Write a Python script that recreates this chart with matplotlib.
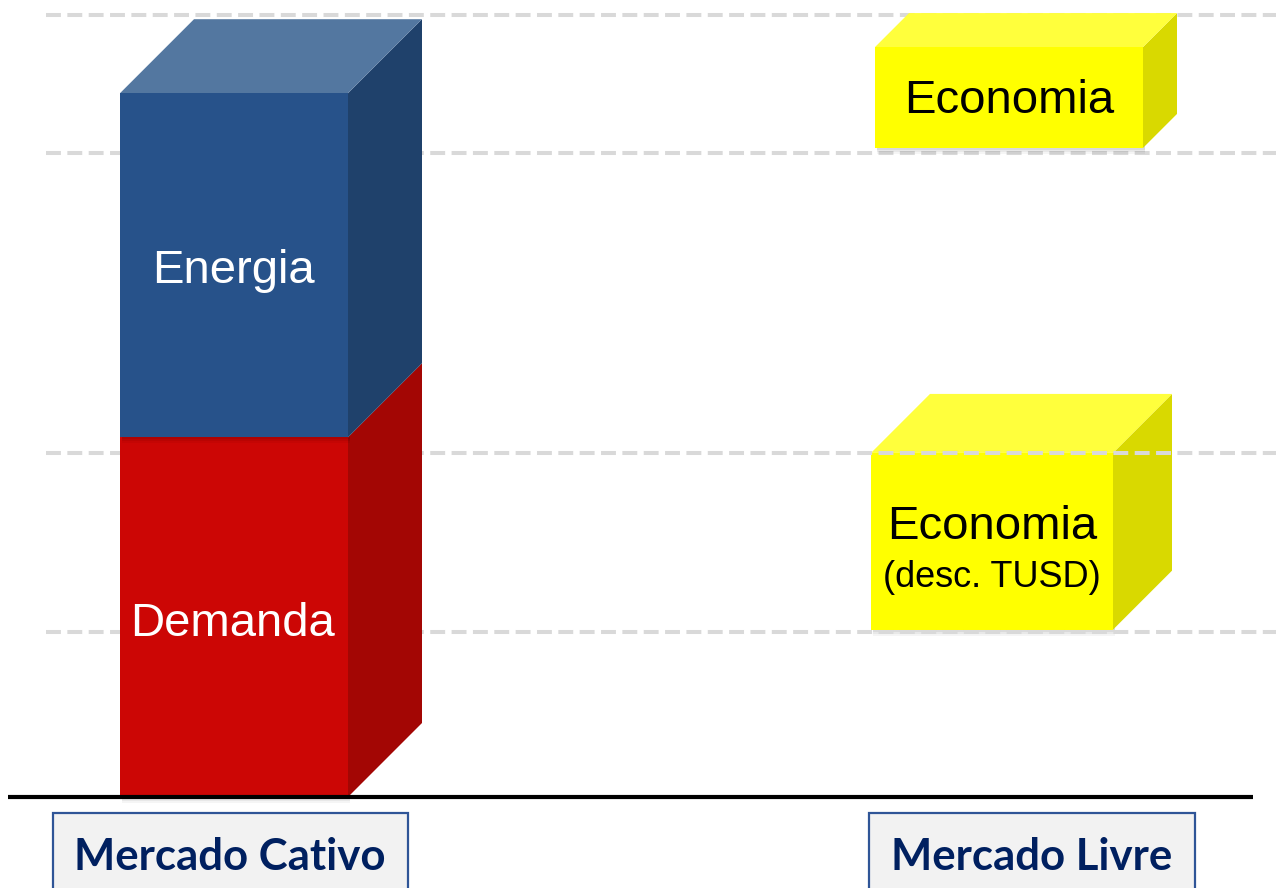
import matplotlib.pyplot as plt
from matplotlib.patches import Polygon, Rectangle

# Dados (unidades relativas, linha de base = 0)
categorias = ['Mercado Cativo', 'Mercado Livre']
cativo_rotulos = ['Demanda', 'Energia']
cativo_valores = [46.0, 44.0]
livre_rotulos = ['Economia', 'Economia']
livre_subrotulos = ['(desc. TUSD)', '']
livre_base = [21.4, 83.0]
livre_altura = [22.6, 12.9]
linhas_ref = [21.1, 44.0, 82.4, 100.0]

# Layout (x em pixels da figura)
ESCALA = 7.82          # pixels por unidade no eixo y
BASE_PX = 797
W, H = 1276, 888

cativo_x, cativo_larg, cativo_prof = 120, 228, 74
cativo_desloc = [-0.9, -0.77]      # ajuste vertical do texto
livre_x = [871, 875]
livre_larg = [242, 268]
livre_prof = [59, 34]
rotulo_cx = [230, 1032]
caixa_x = [(53, 408), (869, 1195)]

cores_cativo = [('#CC0605', '#D8302E', '#A30604'), ('#27528A', '#5377A0', '#1F416B')]
cores_livre = ('#FFFF00', '#FFFF3C', '#D9D900')

fig = plt.figure(figsize=(W / 100, H / 100), dpi=100)
ax = fig.add_axes([0, 0, 1, 1])
ax.set_xlim(0, W)
ax.set_ylim(-(H - BASE_PX) / ESCALA, BASE_PX / ESCALA)
ax.axis('off')


def caixa(x0, larg, y0, alt, prof, cores, z, topo=True):
    frente, cima, lado = cores
    dy = prof / ESCALA
    # sombra suave
    for i, a in enumerate([0.06, 0.05, 0.04]):
        ax.add_patch(Rectangle((x0 + 2, y0 - (2 + 2 * i) / ESCALA), larg, alt,
                               fc='#000000', alpha=a, ec='none', zorder=z - 0.1))
    ax.add_patch(Polygon([(x0 + larg, y0), (x0 + larg + prof, y0 + dy),
                          (x0 + larg + prof, y0 + alt + dy), (x0 + larg, y0 + alt)],
                         fc=lado, ec='none', zorder=z))
    if topo:
        ax.add_patch(Polygon([(x0, y0 + alt), (x0 + larg, y0 + alt),
                              (x0 + larg + prof, y0 + alt + dy), (x0 + prof, y0 + alt + dy)],
                             fc=cima, ec='none', zorder=z))
    ax.add_patch(Rectangle((x0, y0), larg, alt, fc=frente, ec='none', zorder=z + 0.05))


# linhas de referência tracejadas
for v in linhas_ref:
    ax.plot([46, W], [v, v], color='#D9D9D9', lw=2.9, dashes=(3.7, 1.6),
            solid_capstyle='butt', dash_capstyle='butt', zorder=2)

# Mercado Cativo (empilhado)
base = 0
for i, (rot, val) in enumerate(zip(cativo_rotulos, cativo_valores)):
    caixa(cativo_x, cativo_larg, base, val, cativo_prof, cores_cativo[i], z=3 + i,
          topo=(i == len(cativo_valores) - 1))
    ax.text(cativo_x + cativo_larg / 2 - 1, base + val / 2 + cativo_desloc[i], rot,
            color='white', fontsize=34, family='Liberation Sans',
            ha='center', va='center', zorder=10)
    base += val

# Mercado Livre (caixas flutuantes)
for i in range(len(livre_base)):
    z = 1 if i == 0 else 3
    caixa(livre_x[i], livre_larg[i], livre_base[i], livre_altura[i], livre_prof[i],
          cores_livre, z=z)
    cx = livre_x[i] + livre_larg[i] / 2
    cy = livre_base[i] + livre_altura[i] / 2
    if livre_subrotulos[i]:
        ax.text(cx, cy + 1.77, livre_rotulos[i], fontsize=34, family='Liberation Sans',
                ha='center', va='center', zorder=10)
        ax.text(cx, cy - 4.58, livre_subrotulos[i], fontsize=26, family='Liberation Sans',
                ha='center', va='center', zorder=10)
    else:
        ax.text(cx, cy - 0.5, livre_rotulos[i], fontsize=34, family='Liberation Sans',
                ha='center', va='center', zorder=10)

# linha de base
ax.plot([8, 1253], [0, 0], color='black', lw=3, solid_capstyle='butt', zorder=12)

# rótulos das categorias
for cat, cx, (xa, xb) in zip(categorias, rotulo_cx, caixa_x):
    ax.add_patch(Rectangle((xa, -(813 - BASE_PX) / ESCALA), xb - xa, -20,
                           fc='#F2F2F2', ec='#2F5597', lw=1.6, zorder=12))
    ax.text(cx, -(857 - BASE_PX) / ESCALA, cat, color='#002060', fontsize=31.5,
            fontweight='bold', family='Lato', ha='center', va='center', zorder=13)

fig.savefig('out.png', dpi=100)
